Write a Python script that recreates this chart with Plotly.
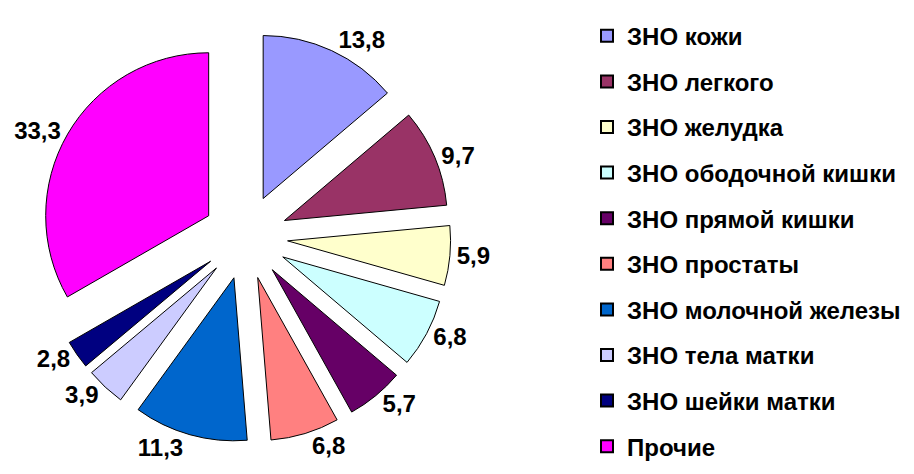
import plotly.graph_objects as go

categories = ["ЗНО кожи", "ЗНО легкого", "ЗНО желудка", "ЗНО ободочной кишки",
              "ЗНО прямой кишки", "ЗНО простаты", "ЗНО молочной железы",
              "ЗНО тела матки", "ЗНО шейки матки", "Прочие"]
values = [13.8, 9.7, 5.9, 6.8, 5.7, 6.8, 11.3, 3.9, 2.8, 33.3]
colors = ["#9999FF", "#993366", "#FFFFCC", "#CCFFFF", "#660066",
          "#FF8080", "#0066CC", "#CCCCFF", "#000080", "#FF00FF"]
labels_text = [f"{v:.1f}".replace(".", ",") for v in values]

FONT = "Liberation Sans, Arial, sans-serif"

fig = go.Figure()
fig.add_trace(go.Pie(
    labels=categories, values=values, text=labels_text,
    textinfo="text", textposition="outside",
    textfont=dict(family=FONT, size=24, color="black", weight="bold"),
    marker=dict(colors=colors, line=dict(color="black", width=1)),
    sort=False, direction="clockwise", rotation=0,
    pull=[0.26] * len(values),
    domain=dict(x=[0.035, 0.4844], y=[0.0836, 0.9502]),
    showlegend=False, hoverinfo="label+value",
))

for i, (name, col) in enumerate(zip(categories, colors)):
    fig.add_trace(go.Scatter(
        x=[None], y=[None], mode="markers", name=name,
        legendgroup=f"g{i}",
        marker=dict(symbol="square", size=15, color=col,
                    line=dict(color="black", width=1)),
    ))

fig.update_layout(
    width=914, height=474,
    margin=dict(l=0, r=0, t=0, b=0, autoexpand=False),
    paper_bgcolor="white", plot_bgcolor="white",
    xaxis=dict(visible=False), yaxis=dict(visible=False),
    legend=dict(
        x=0.6335, y=0.988, xanchor="left", yanchor="top",
        font=dict(family=FONT, size=24, color="black", weight="bold"),
        tracegroupgap=11.4, itemsizing="constant",
        bgcolor="rgba(0,0,0,0)",
    ),
)

fig.write_html("out.html")
